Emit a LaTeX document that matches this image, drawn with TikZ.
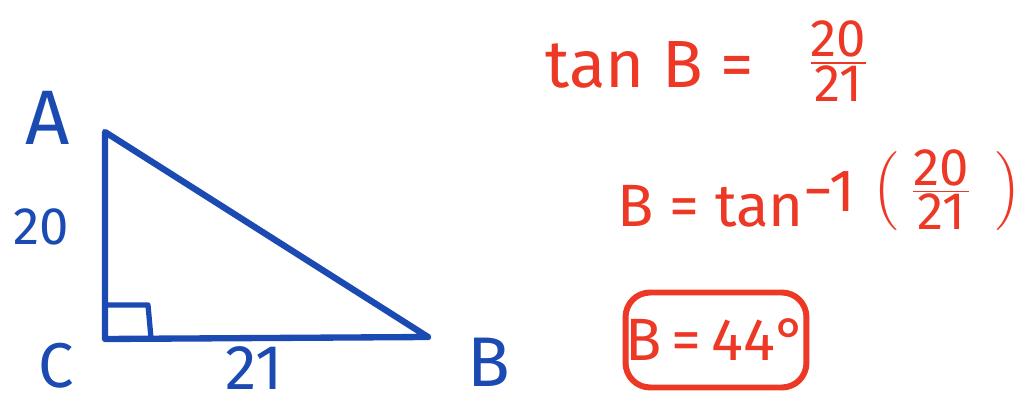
\documentclass[tikz,border=0pt]{standalone}
\usepackage{fontspec}
\setmainfont{Fira Sans}
\usepackage{amsmath}
\usetikzlibrary{positioning}
\definecolor{penblue}{RGB}{26,74,178}
\definecolor{penred}{RGB}{236,56,36}
\newcommand{\penfrac}[2]{\frac{\mbox{\fontsize{30}{30}\selectfont #1}}{\mbox{\fontsize{30}{30}\selectfont #2}}}

\begin{document}
\begin{tikzpicture}[
    x=0.02cm, y=-0.02cm,
    side/.style={penblue, line width=3.6pt, line join=round, line cap=round},
    vlabel/.style={penblue, inner sep=0pt},
    eqline/.style={penred, inner sep=0pt},
    answerbox/.style={draw=penred, line width=3.4pt, rounded corners=14pt,
        minimum width=3.6cm, minimum height=1.9cm, inner sep=0pt,
        font=\fontsize{34}{36}\selectfont, text=penred}
]
\useasboundingbox (0,0) rectangle (1026,404);

% triangle
\coordinate (A) at (105,132);
\coordinate (C) at (105,339);
\coordinate (B) at (428,337);
\draw[side] (A) -- (B) -- (C) -- cycle;
\draw[side, line width=3pt] (105,305) -- (148,305) -- (151,338);

% vertex and side labels
\node[vlabel, font=\fontsize{44}{44}\selectfont] (lA) at (48,118) {A};
\node[vlabel, font=\fontsize{30}{30}\selectfont] (l20) at (41,227) {20};
\node[vlabel, font=\fontsize{36}{36}\selectfont] (lC) at (56,366) {C};
\node[vlabel, font=\fontsize{36}{36}\selectfont] (l21) at (254,368) {21};
\node[vlabel, font=\fontsize{40}{40}\selectfont] (lB) at (489,362) {B};

% working
\node[eqline, anchor=base west, font=\fontsize{38}{40}\selectfont] (tanB) at (545,88)
    {tan B = \;\;\raisebox{8pt}{$\penfrac{20}{21}$}};
\node[eqline, anchor=base west, font=\fontsize{34}{36}\selectfont] (invtan) at (617,227)
    {B = tan$^{\mbox{−1}}$\;\raisebox{14pt}{$\Big(\;\penfrac{20}{21}\;\;\Big)$}};
\node[answerbox] (ans) at (716,340) {B\,=\,44°};
\end{tikzpicture}
\end{document}
